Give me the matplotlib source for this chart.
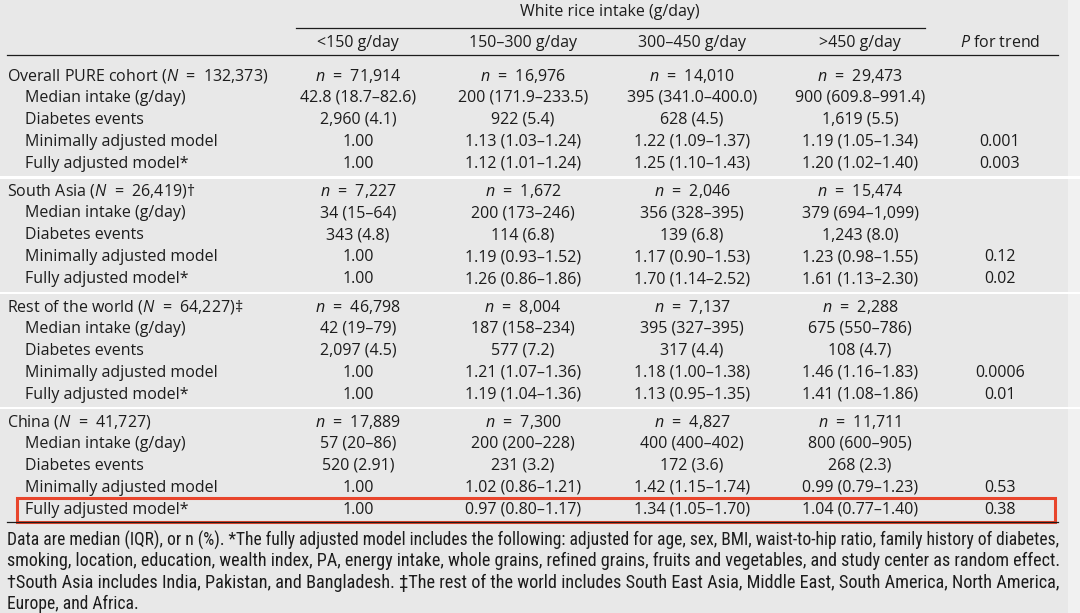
import matplotlib
matplotlib.use('Agg')
import matplotlib.pyplot as plt
from matplotlib import font_manager as fm
from matplotlib.patches import Rectangle

# table content
columns = ['<150 g/day', '150–300 g/day', '300–450 g/day', '>450 g/day']
groups = ['Overall PURE cohort', 'South Asia', 'Rest of the world', 'China']
group_N = ['132,373', '26,419', '64,227', '41,727']
group_mark = ['', '†', '‡', '']
row_labels = ['Median intake (g/day)', 'Diabetes events',
              'Minimally adjusted model', 'Fully adjusted model*']

n_counts = [['71,914', '16,976', '14,010', '29,473'],
            ['7,227', '1,672', '2,046', '15,474'],
            ['46,798', '8,004', '7,137', '2,288'],
            ['17,889', '7,300', '4,827', '11,711']]
median_intake = [['42.8 (18.7–82.6)', '200 (171.9–233.5)', '395 (341.0–400.0)', '900 (609.8–991.4)'],
                 ['34 (15–64)', '200 (173–246)', '356 (328–395)', '379 (694–1,099)'],
                 ['42 (19–79)', '187 (158–234)', '395 (327–395)', '675 (550–786)'],
                 ['57 (20–86)', '200 (200–228)', '400 (400–402)', '800 (600–905)']]
diabetes_events = [['2,960 (4.1)', '922 (5.4)', '628 (4.5)', '1,619 (5.5)'],
                   ['343 (4.8)', '114 (6.8)', '139 (6.8)', '1,243 (8.0)'],
                   ['2,097 (4.5)', '577 (7.2)', '317 (4.4)', '108 (4.7)'],
                   ['520 (2.91)', '231 (3.2)', '172 (3.6)', '268 (2.3)']]
min_adjusted = [['1.00', '1.13 (1.03–1.24)', '1.22 (1.09–1.37)', '1.19 (1.05–1.34)'],
                ['1.00', '1.19 (0.93–1.52)', '1.17 (0.90–1.53)', '1.23 (0.98–1.55)'],
                ['1.00', '1.21 (1.07–1.36)', '1.18 (1.00–1.38)', '1.46 (1.16–1.83)'],
                ['1.00', '1.02 (0.86–1.21)', '1.42 (1.15–1.74)', '0.99 (0.79–1.23)']]
full_adjusted = [['1.00', '1.12 (1.01–1.24)', '1.25 (1.10–1.43)', '1.20 (1.02–1.40)'],
                 ['1.00', '1.26 (0.86–1.86)', '1.70 (1.14–2.52)', '1.61 (1.13–2.30)'],
                 ['1.00', '1.19 (1.04–1.36)', '1.13 (0.95–1.35)', '1.41 (1.08–1.86)'],
                 ['1.00', '0.97 (0.80–1.17)', '1.34 (1.05–1.70)', '1.04 (0.77–1.40)']]
p_min = ['0.001', '0.12', '0.0006', '0.53']
p_full = ['0.003', '0.02', '0.01', '0.38']

footnotes = [
    'Data are median (IQR), or n (%). *The fully adjusted model includes the following: adjusted for age, sex, BMI, waist-to-hip ratio, family history of diabetes,',
    'smoking, location, education, wealth index, PA, energy intake, whole grains, refined grains, fruits and vegetables, and study center as random effect.',
    '†South Asia includes India, Pakistan, and Bangladesh. ‡The rest of the world includes South East Asia, Middle East, South America, North America,',
    'Europe, and Africa.',
]

BG = '#e8e8e8'
INK = '#1c1c1c'
FONT = 'Open Sans'
FS = 11.5
EQ = '  =  '

plt.rcParams['mathtext.fontset'] = 'custom'
plt.rcParams['mathtext.rm'] = FONT
plt.rcParams['mathtext.it'] = FONT + ':italic'

names = {f.name for f in fm.fontManager.ttflist}
foot_family, foot_stretch = 'Liberation Sans', 'normal'
for cand in ['Liberation Sans Narrow', 'Roboto Condensed', 'Open Sans Condensed', 'DejaVu Sans Condensed']:
    if cand in names:
        foot_family = cand
        break
else:
    if any(f.name == 'DejaVu Sans' and f.stretch == 'condensed' for f in fm.fontManager.ttflist):
        foot_family, foot_stretch = 'DejaVu Sans', 'condensed'

fig = plt.figure(figsize=(10.8, 6.13), dpi=100)
fig.patch.set_facecolor(BG)
ax = fig.add_axes([0, 0, 1, 1])
ax.set_xlim(0, 1080)
ax.set_ylim(613, 0)
ax.axis('off')
ax.axvspan(1068, 1080, color='#f1f1f1', lw=0)

col_x = [358, 523, 692, 860]
p_x = 1000
left, indent = 7, 25

def txt(x, y, s, ha='center'):
    ax.text(x, y, s, ha=ha, va='center', fontsize=FS, family=FONT, color=INK)

# header
txt(610, 12, 'White rice intake (g/day)')
ax.plot([296, 925], [28, 28], color=INK, lw=0.9)
for x, c in zip(col_x, columns):
    txt(x, 43, c)
txt(p_x, 43, '$P$ for trend')
ax.plot([left, 1058], [55, 55], color=INK, lw=0.9)

row_h = 22
sec_h = 115.3
first = 76
for g in range(len(groups)):
    y0 = first + g * sec_h
    if g > 0:
        ax.axhspan(y0 - 15, y0 - 12.5, color='white', lw=0)
    txt(left, y0, groups[g] + ' ($N$' + EQ + group_N[g] + ')' + group_mark[g], ha='left')
    for j, x in enumerate(col_x):
        txt(x, y0, '$n$' + EQ + n_counts[g][j])
    rows = [median_intake[g], diabetes_events[g], min_adjusted[g], full_adjusted[g]]
    for i, (lab, vals) in enumerate(zip(row_labels, rows)):
        y = y0 + (i + 1) * row_h
        txt(indent, y, lab, ha='left')
        for j, x in enumerate(col_x):
            txt(x, y, vals[j])
    txt(p_x, y0 + 3 * row_h, p_min[g])
    txt(p_x, y0 + 4 * row_h, p_full[g])

last_y = first + 3 * sec_h + 4 * row_h
ax.plot([left, 1058], [last_y + 12, last_y + 12], color=INK, lw=0.9)
ax.add_patch(Rectangle((17, last_y - 12), 1038, 24, fill=False,
                       edgecolor='#e8452c', lw=2.2))

# footnotes: each full line sized to span the table width
renderer = fig.canvas.get_renderer()
foot_kw = dict(family=foot_family, stretch=foot_stretch, color=INK)

def width(s, fs):
    t = ax.text(0, 0, s, fontsize=fs, **foot_kw)
    w = t.get_window_extent(renderer).width
    t.remove()
    return w

right = 1054
base_fs = 10 * (right - left) / width(footnotes[0], 10)
for k, line in enumerate(footnotes):
    fs = base_fs
    if k < len(footnotes) - 1:
        fs = 10 * (right - left) / width(line, 10)
    ax.text(left, 540 + k * 21.3, line, ha='left', va='center', fontsize=fs, **foot_kw)

fig.savefig('out.png', dpi=100, facecolor=BG)
